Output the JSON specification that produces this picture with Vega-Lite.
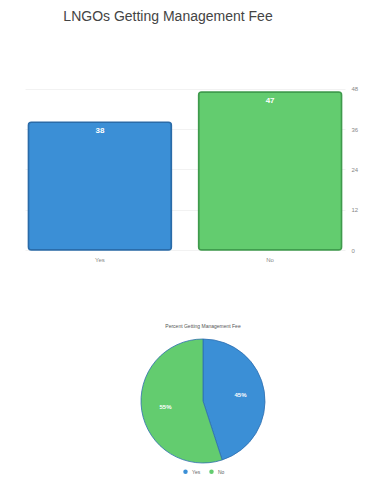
{
  "$schema": "https://vega.github.io/schema/vega-lite/v6.json",
  "padding": {"left": 25, "top": 10, "right": 0, "bottom": 0},
  "background": "white",
  "spacing": 62,
  "resolve": {"scale": {"color": "independent", "stroke": "independent"}, "legend": {"color": "independent"}},
  "config": {
    "view": {"stroke": null},
    "font": "Liberation Sans",
    "axis": {"labelColor": "#888", "labelFontSize": 6, "ticks": false, "domain": false}
  },
  "datasets": {
    "bars": [
      {"answer": "Yes", "count": 38},
      {"answer": "No", "count": 47}
    ],
    "pie": [
      {"answer": "Yes", "percent": 45, "label": "45%"},
      {"answer": "No", "percent": 55, "label": "55%"}
    ]
  },
  "vconcat": [
    {
      "title": {"text": "LNGOs Getting Management Fee", "fontSize": 14, "fontWeight": "normal", "color": "#444", "offset": 58, "anchor": "middle", "dx": -17},
      "width": 320,
      "height": 168,
      "data": {"name": "bars"},
      "layer": [
        {
          "mark": {"type": "bar", "cornerRadius": 3, "strokeWidth": 1.5},
          "encoding": {
            "x": {"field": "answer", "type": "nominal", "sort": ["Yes", "No"], "title": null,
                  "scale": {"paddingInner": 0.16, "paddingOuter": 0.02},
                  "axis": {"labelAngle": 0, "labelPadding": 6}},
            "y": {"field": "count", "type": "quantitative", "title": null,
                  "scale": {"domain": [0, 48]},
                  "axis": {"orient": "right", "values": [0, 12, 24, 36, 48], "gridColor": "#f2f2f2", "labelPadding": 6}},
            "color": {"field": "answer", "type": "nominal", "legend": null,
                      "scale": {"domain": ["Yes", "No"], "range": ["#3b8fd6", "#63cc6f"]}},
            "stroke": {"field": "answer", "type": "nominal", "legend": null,
                      "scale": {"domain": ["Yes", "No"], "range": ["#2a6ba8", "#3f9a4c"]}}
          }
        },
        {
          "mark": {"type": "text", "color": "white", "fontSize": 8, "fontWeight": "bold", "dy": 9},
          "encoding": {
            "x": {"field": "answer", "type": "nominal", "sort": ["Yes", "No"]},
            "y": {"field": "count", "type": "quantitative"},
            "text": {"field": "count", "type": "quantitative"}
          }
        }
      ]
    },
    {
      "title": {"text": "Percent Getting Management Fee", "fontSize": 5, "fontWeight": "normal", "color": "#555", "offset": 8},
      "width": 356,
      "height": 124,
      "data": {"name": "pie"},
      "layer": [
        {
          "mark": {"type": "arc", "stroke": "#2f6fb0", "strokeWidth": 0.8},
          "encoding": {
            "theta": {"field": "percent", "type": "quantitative", "stack": true},
            "order": {"field": "percent", "type": "quantitative"},
            "color": {"field": "answer", "type": "nominal",
                      "scale": {"domain": ["Yes", "No"], "range": ["#3b8fd6", "#63cc6f"]},
                      "legend": {"orient": "none", "legendX": 158, "legendY": 130, "direction": "horizontal", "title": null, "symbolType": "circle", "symbolSize": 20, "symbolStrokeWidth": 0, "labelFontSize": 5, "labelColor": "#666", "padding": 0, "columnPadding": 8}}
          }
        },
        {
          "mark": {"type": "text", "radius": 38, "color": "white", "fontSize": 6, "fontWeight": "bold"},
          "encoding": {
            "theta": {"field": "percent", "type": "quantitative", "stack": true},
            "order": {"field": "percent", "type": "quantitative"},
            "text": {"field": "label", "type": "nominal"}
          }
        }
      ]
    }
  ]
}
